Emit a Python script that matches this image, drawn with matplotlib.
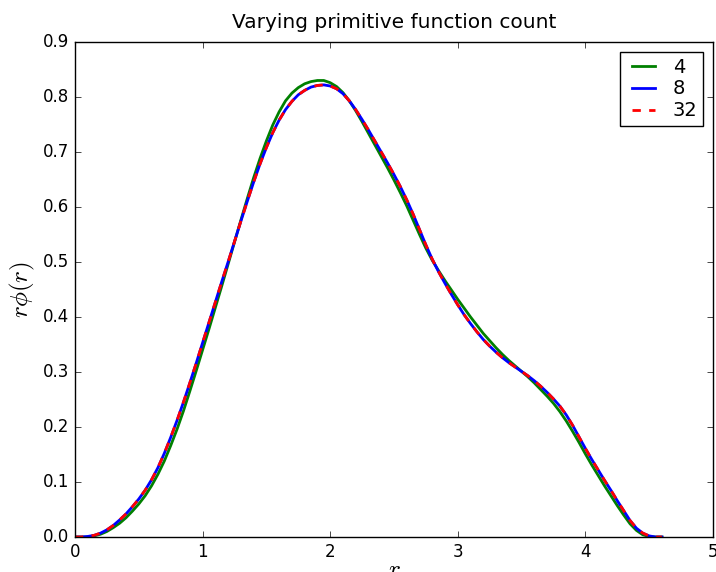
import numpy as np
import matplotlib
matplotlib.use('Agg')
import matplotlib.pyplot as plt

plt.style.use('classic')
plt.rcParams['mathtext.fontset'] = 'cm'

r = np.round(np.arange(0, 4.601, 0.05), 2)

phi4 = np.array([
    0.000, 0.000, 0.000, 0.002, 0.005, 0.010, 0.017, 0.025, 0.035, 0.047,
    0.060, 0.075, 0.093, 0.114, 0.138, 0.166, 0.196, 0.229, 0.265, 0.302,
    0.340, 0.378, 0.417, 0.456, 0.496, 0.536, 0.576, 0.615, 0.653, 0.688,
    0.720, 0.749, 0.773, 0.793, 0.807, 0.817, 0.824, 0.828, 0.830, 0.830,
    0.826, 0.819, 0.808, 0.793, 0.775, 0.755, 0.734, 0.713, 0.692, 0.671,
    0.649, 0.626, 0.602, 0.576, 0.550, 0.525, 0.503, 0.484, 0.466, 0.449,
    0.432, 0.416, 0.400, 0.385, 0.370, 0.357, 0.344, 0.332, 0.321, 0.311,
    0.301, 0.291, 0.280, 0.268, 0.256, 0.243, 0.228, 0.211, 0.192, 0.172,
    0.151, 0.131, 0.112, 0.093, 0.075, 0.057, 0.040, 0.024, 0.012, 0.004,
    0.001, 0.000, 0.000,
])

phi8 = np.array([
    0.000, 0.000, 0.001, 0.003, 0.007, 0.013, 0.021, 0.031, 0.042, 0.055,
    0.069, 0.085, 0.104, 0.126, 0.152, 0.181, 0.212, 0.245, 0.280, 0.316,
    0.353, 0.390, 0.427, 0.464, 0.500, 0.537, 0.574, 0.610, 0.645, 0.678,
    0.708, 0.735, 0.758, 0.777, 0.792, 0.804, 0.812, 0.818, 0.821, 0.822,
    0.820, 0.815, 0.806, 0.793, 0.777, 0.759, 0.740, 0.720, 0.700, 0.680,
    0.659, 0.637, 0.613, 0.587, 0.559, 0.531, 0.505, 0.482, 0.461, 0.441,
    0.422, 0.404, 0.388, 0.373, 0.359, 0.347, 0.336, 0.326, 0.317, 0.309,
    0.301, 0.293, 0.284, 0.274, 0.263, 0.251, 0.238, 0.222, 0.203, 0.182,
    0.161, 0.141, 0.122, 0.103, 0.085, 0.066, 0.048, 0.030, 0.016, 0.007,
    0.002, 0.000, 0.000,
])

phi32 = np.array([
    0.000, 0.000, 0.001, 0.003, 0.007, 0.013, 0.021, 0.031, 0.042, 0.055,
    0.069, 0.085, 0.104, 0.126, 0.152, 0.181, 0.212, 0.245, 0.280, 0.316,
    0.353, 0.390, 0.427, 0.464, 0.500, 0.537, 0.574, 0.610, 0.645, 0.678,
    0.708, 0.735, 0.758, 0.777, 0.792, 0.804, 0.812, 0.818, 0.821, 0.822,
    0.820, 0.815, 0.806, 0.793, 0.777, 0.759, 0.740, 0.720, 0.700, 0.680,
    0.659, 0.637, 0.613, 0.587, 0.559, 0.531, 0.505, 0.482, 0.461, 0.441,
    0.422, 0.404, 0.388, 0.373, 0.359, 0.347, 0.336, 0.326, 0.317, 0.309,
    0.301, 0.293, 0.284, 0.274, 0.263, 0.251, 0.238, 0.222, 0.203, 0.182,
    0.161, 0.141, 0.122, 0.103, 0.085, 0.066, 0.048, 0.030, 0.016, 0.007,
    0.002, 0.000, 0.000,
])

fig = plt.figure(figsize=(7.16, 5.72), dpi=100, facecolor='white')
ax = fig.add_axes([0.1047, 0.0612, 0.8911, 0.8654])

ax.plot(r, phi4, color='g', lw=2, label='4')
ax.plot(r, phi8, color='b', lw=2, label='8')
ax.plot(r, phi32, color='r', lw=2, ls='--', label='32')

ax.set_xlim(0, 5)
ax.set_ylim(0, 0.9)
ax.set_xticks([0, 1, 2, 3, 4, 5])
ax.set_yticks(np.arange(0, 0.91, 0.1))
ax.set_yticklabels(['%.1f' % v for v in np.arange(0, 0.91, 0.1)])
ax.tick_params(labelsize=12)
ax.set_title('Varying primitive function count', fontsize=14.5, y=1.015)
ax.set_xlabel('$r$', fontsize=18, labelpad=-2)
ax.set_ylabel(r'$r\phi(r)$', fontsize=18, labelpad=4)
ax.legend(loc='upper right', fontsize=14, handlelength=1.8, labelspacing=0.15,
          borderpad=0.3, handletextpad=0.6, borderaxespad=0.5)

fig.savefig('out.png', dpi=100, facecolor='white')
